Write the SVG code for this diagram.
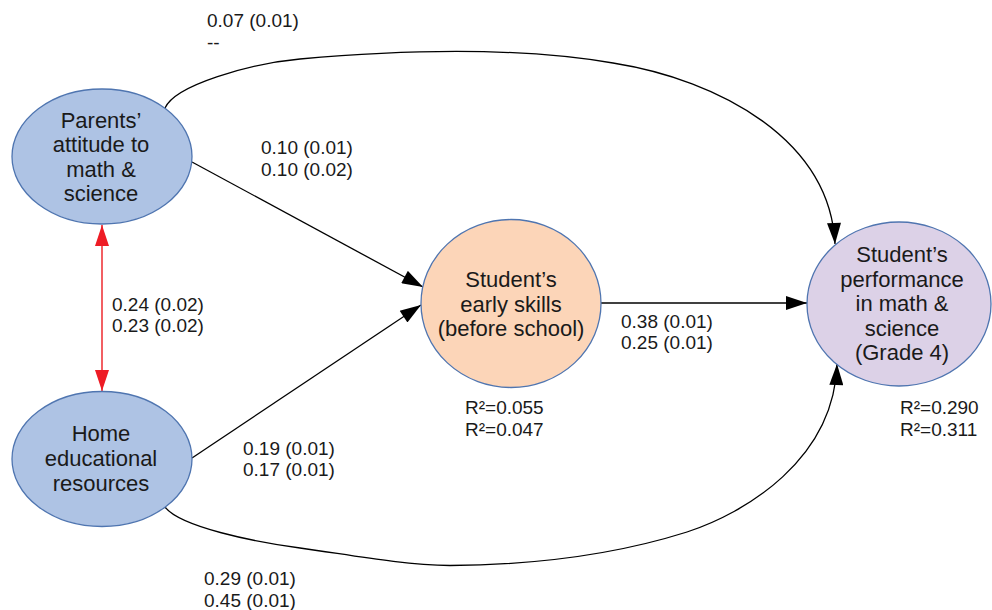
<svg xmlns="http://www.w3.org/2000/svg" width="992" height="610" viewBox="0 0 992 610">
<defs>
<style>
.node{stroke:#4f75b0;stroke-width:1.3}
.blue{fill:#aec3e4}
.peach{fill:#fcd5b8}
.purple{fill:#dcd1e7}
.nt{font-family:"Liberation Sans",Arial,sans-serif;font-size:22px;fill:#1a1a1a;text-anchor:middle}
.lb{font-family:"Liberation Sans",Arial,sans-serif;font-size:19px;fill:#1a1a1a}
.edge{fill:none;stroke:#000;stroke-width:1.3}
.red{fill:none;stroke:#ee2a2f;stroke-width:1.5}
</style>
<marker id="ah" markerUnits="userSpaceOnUse" markerWidth="22" markerHeight="14" viewBox="0 0 21 14" refX="21" refY="7" orient="auto">
<path d="M0,0 L21,7 L0,14 z" fill="#000"/>
</marker>
<marker id="ahr" markerUnits="userSpaceOnUse" markerWidth="22" markerHeight="14" viewBox="0 0 21 14" refX="21" refY="7" orient="auto-start-reverse">
<path d="M0,0 L21,7 L0,14 z" fill="#ee1c25"/>
</marker>
</defs>
<rect width="992" height="610" fill="#fff"/>
<g id="connectors">
<path class="edge" d="M165,108 C175,85 250,63.5 300,59 C400,50 513,46 613,63 C720,80 830,140 835,244" marker-end="url(#ah)"/>
<path class="edge" d="M192,162 L423,287" marker-end="url(#ah)"/>
<path class="edge" d="M192,458 L421,305" marker-end="url(#ah)"/>
<path class="edge" d="M601,303 L807,303" marker-end="url(#ah)"/>
<path class="edge" d="M165,507 C180,527 255,542 300,548 C345,554 400,565 450,565.5 C530,565 611,556 687,532 C745,513 834,460 837,364" marker-end="url(#ah)"/>
<path class="red" d="M102,225 L102,391" marker-start="url(#ahr)" marker-end="url(#ahr)"/>
</g>
<g id="labels">
<text class="lb" x="207" y="27">0.07 (0.01)</text>
<text class="lb" x="207" y="49">--</text>
<text class="lb" x="261" y="154">0.10 (0.01)</text>
<text class="lb" x="261" y="176">0.10 (0.02)</text>
<text class="lb" x="112" y="310.5">0.24 (0.02)</text>
<text class="lb" x="112" y="332">0.23 (0.02)</text>
<text class="lb" x="243" y="455">0.19 (0.01)</text>
<text class="lb" x="243" y="476">0.17 (0.01)</text>
<text class="lb" x="204" y="585">0.29 (0.01)</text>
<text class="lb" x="204" y="606.5">0.45 (0.01)</text>
<text class="lb" x="621" y="328">0.38 (0.01)</text>
<text class="lb" x="621" y="349">0.25 (0.01)</text>
<text class="lb" x="465" y="414">R²=0.055</text>
<text class="lb" x="465" y="435.5">R²=0.047</text>
<text class="lb" x="900" y="414">R²=0.290</text>
<text class="lb" x="900" y="435.5">R²=0.311</text>
</g>
<g id="parents">
<ellipse class="node blue" cx="102" cy="156.5" rx="90" ry="67.5"/>
<text class="nt" x="101" y="127.5">Parents’</text>
<text class="nt" x="101" y="152">attitude to</text>
<text class="nt" x="101" y="176.5">math &amp;</text>
<text class="nt" x="101" y="201">science</text>
</g>
<g id="home">
<ellipse class="node blue" cx="102" cy="459" rx="90" ry="67.5"/>
<text class="nt" x="101" y="441">Home</text>
<text class="nt" x="101" y="466">educational</text>
<text class="nt" x="101" y="490.5">resources</text>
</g>
<g id="early">
<ellipse class="node peach" cx="511" cy="303.5" rx="90" ry="84"/>
<text class="nt" x="511" y="287">Student’s</text>
<text class="nt" x="511" y="311.5">early skills</text>
<text class="nt" x="511" y="336">(before school)</text>
</g>
<g id="performance">
<ellipse class="node purple" cx="899" cy="304" rx="92" ry="82"/>
<text class="nt" x="902" y="262">Student’s</text>
<text class="nt" x="902" y="286.5">performance</text>
<text class="nt" x="902" y="311">in math &amp;</text>
<text class="nt" x="902" y="335.5">science</text>
<text class="nt" x="902" y="360">(Grade 4)</text>
</g>
</svg>
